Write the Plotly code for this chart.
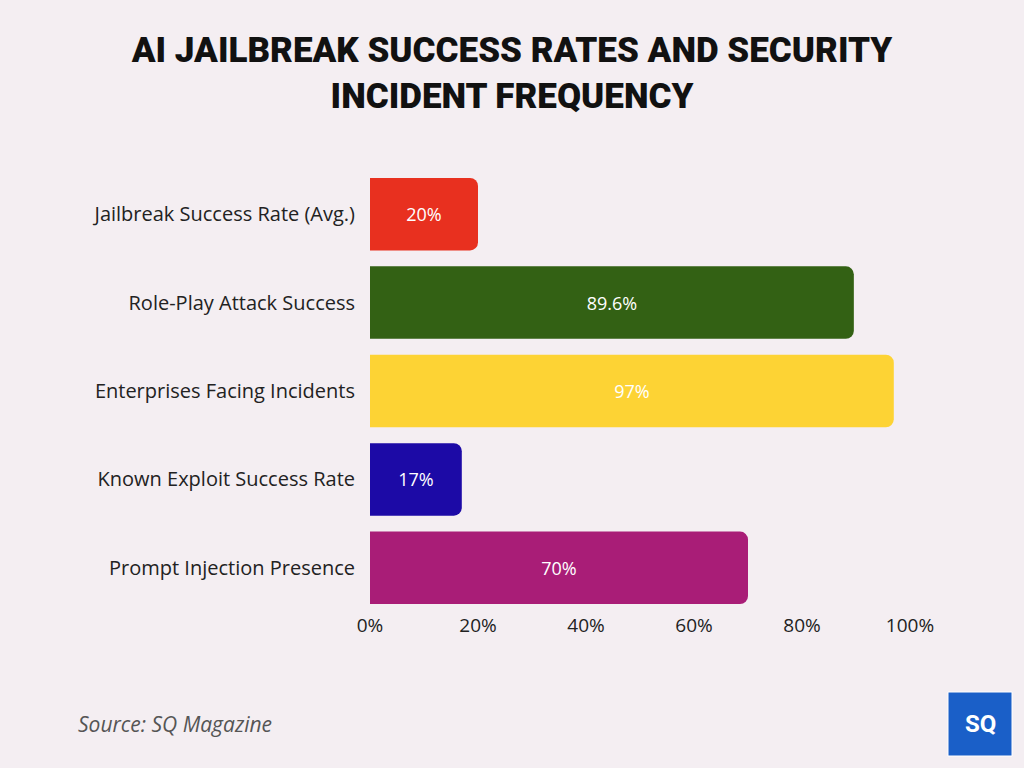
import plotly.graph_objects as go

categories = [
    "Jailbreak Success Rate (Avg.)",
    "Role-Play Attack Success",
    "Enterprises Facing Incidents",
    "Known Exploit Success Rate",
    "Prompt Injection Presence",
]
values = [20, 89.6, 97, 17, 70]
value_labels = ["20%", "89.6%", "97%", "17%", "70%"]
bar_colors = ["#e8301f", "#336114", "#fdd334", "#1c0aa6", "#a91d77"]
tick_vals = [0, 20, 40, 60, 80, 100]
tick_text = ["0%", "20%", "40%", "60%", "80%", "100%"]

fig = go.Figure(
    go.Bar(
        y=categories,
        x=values,
        orientation="h",
        marker=dict(color=bar_colors, line=dict(width=0)),
        text=value_labels,
        textposition="inside",
        insidetextanchor="middle",
        textfont=dict(color="white", size=18, family="Open Sans"),
        hoverinfo="skip",
    )
)

fig.update_layout(
    width=1024,
    height=768,
    margin=dict(l=370, r=114, t=170, b=156),
    paper_bgcolor="#f4eef2",
    plot_bgcolor="rgba(0,0,0,0)",
    bargap=0.18,
    barcornerradius=8,
    showlegend=False,
    title=dict(
        text="AI JAILBREAK SUCCESS RATES AND SECURITY<br>INCIDENT FREQUENCY",
        x=0.5,
        xanchor="center",
        y=0.919,
        yanchor="middle",
        font=dict(family="Roboto", size=35, color="#111111", weight=900),
    ),
    xaxis=dict(
        range=[0, 100],
        tickvals=tick_vals,
        ticktext=tick_text,
        showgrid=False,
        zeroline=False,
        showline=False,
        tickfont=dict(family="Open Sans", size=19, color="#222222"),
        ticklabelstandoff=0,
    ),
    yaxis=dict(
        categoryorder="array",
        categoryarray=categories,
        autorange="reversed",
        showgrid=False,
        zeroline=False,
        showline=False,
        tickfont=dict(family="Open Sans", size=20, color="#222222"),
        ticklabelstandoff=14,
    ),
)

fig.add_annotation(
    text="Source: SQ Magazine",
    xref="paper", yref="paper",
    x=(76 - 370) / 540, y=(768 - 724 - 156) / 442,
    xanchor="left", yanchor="middle",
    showarrow=False,
    font=dict(family="Open Sans", size=21, color="#555555", style="italic"),
)

# SQ logo
fig.add_shape(
    type="rect", xref="paper", yref="paper",
    x0=(948 - 370) / 540, x1=(1012 - 370) / 540,
    y0=(768 - 756 - 156) / 442, y1=(768 - 692 - 156) / 442,
    fillcolor="#1a5fc8", line=dict(color="#ffffff", width=1),
    layer="above",
)
fig.add_annotation(
    text="<b>SQ</b>",
    xref="paper", yref="paper",
    x=(980 - 370) / 540, y=(768 - 724 - 156) / 442,
    xanchor="center", yanchor="middle",
    showarrow=False,
    font=dict(family="Roboto", size=24, color="white"),
)

fig.write_html("out.html")
